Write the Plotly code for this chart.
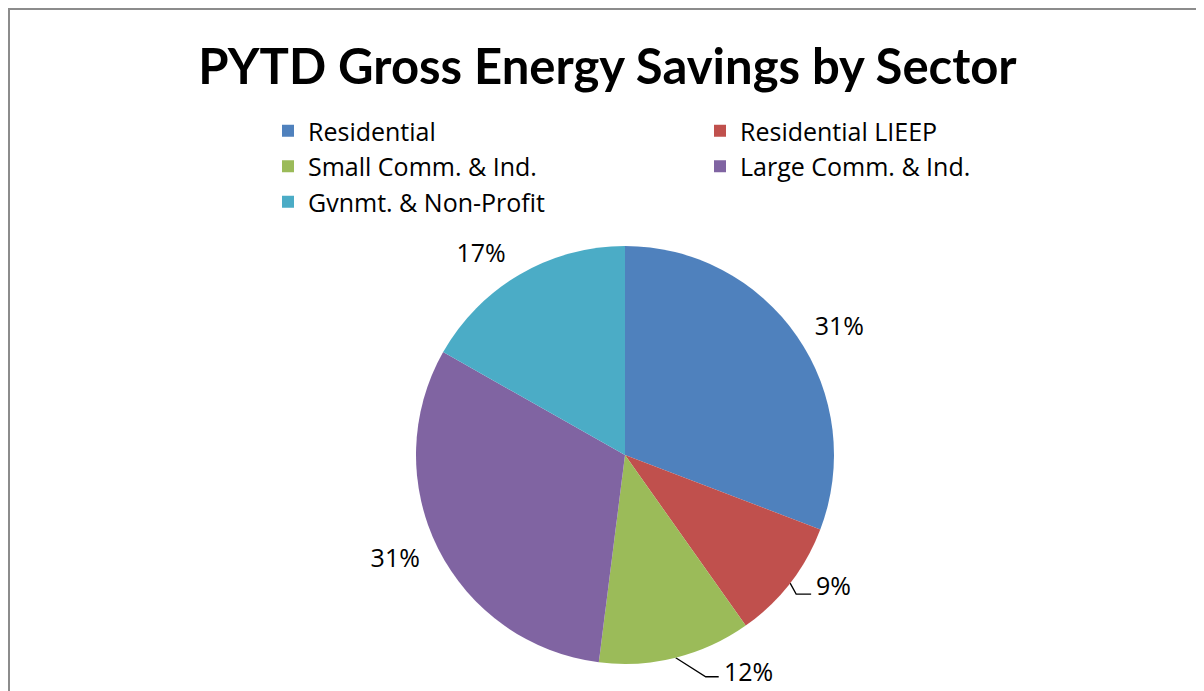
import math
import plotly.graph_objects as go

# datos del gráfico
sectores = ['Residential', 'Residential LIEEP', 'Small Comm. & Ind.',
            'Large Comm. & Ind.', 'Gvnmt. & Non-Profit']
ahorro_pct = [30.8, 9.4, 11.8, 31.2, 16.8]
colores = ['#4F81BD', '#C0504D', '#9BBB59', '#8064A2', '#4BACC6']

W, H = 1204, 691
OFF = 8  # margen del body de la página

# centro y radio del pastel (px en la figura)
cx, cy, r = 625 - OFF, 455 - OFF, 209
r_txt = 220

total = sum(ahorro_pct)
etiquetas = ['{}%'.format(round(v / total * 100)) for v in ahorro_pct]
# las etiquetas de sectores pequeños van con línea guía (como en Excel)
con_guia = {1: dict(codo=(6, 11), fin=(21, 11), dy=-9),
            2: dict(codo=(30, 19), fin=(43, 19), dy=-6)}


def dominio(rad):
    return dict(x=[(cx - rad) / W, (cx + rad) / W],
                y=[(H - cy - rad) / H, (H - cy + rad) / H])


fig = go.Figure()
fig.add_trace(go.Pie(
    labels=sectores,
    values=ahorro_pct,
    sort=False,
    direction='clockwise',
    rotation=0,
    marker=dict(colors=colores, line=dict(width=0)),
    textinfo='none',
    domain=dominio(r),
    hoverinfo='label+percent',
))
# pastel invisible solo para colocar las etiquetas más afuera
fig.add_trace(go.Pie(
    labels=sectores,
    values=ahorro_pct,
    sort=False,
    direction='clockwise',
    rotation=0,
    showlegend=False,
    marker=dict(colors=['rgba(0,0,0,0)'] * 5, line=dict(width=0)),
    text=['' if i in con_guia else t for i, t in enumerate(etiquetas)],
    textinfo='text',
    textposition='outside',
    textfont=dict(family='Open Sans', size=25, color='black'),
    domain=dominio(r_txt),
    hoverinfo='skip',
))

# líneas guía y etiquetas para los sectores pequeños
anot = []
acum = 0
for i, v in enumerate(ahorro_pct):
    ang = 2 * math.pi * (acum + v / 2) / total
    acum += v
    if i not in con_guia:
        continue
    px_ = cx + r * math.sin(ang)
    py_ = cy - r * math.cos(ang)
    g = con_guia[i]
    fig.add_trace(go.Scatter(
        x=[px_, px_ + g['codo'][0], px_ + g['fin'][0]],
        y=[py_, py_ + g['codo'][1], py_ + g['fin'][1]],
        mode='lines', line=dict(color='black', width=1.3),
        showlegend=False, hoverinfo='skip'))
    anot.append(dict(x=px_ + g['fin'][0] + 3, y=py_ + g['fin'][1] + g['dy'],
                     text=etiquetas[i], xref='x', yref='y',
                     xanchor='left', yanchor='middle', showarrow=False,
                     font=dict(family='Open Sans', size=25, color='black')))

fig.update_layout(
    width=W, height=H,
    margin=dict(l=0, r=0, t=0, b=0),
    paper_bgcolor='white',
    plot_bgcolor='rgba(0,0,0,0)',
    xaxis=dict(range=[0, W], visible=False, fixedrange=True),
    yaxis=dict(range=[H, 0], visible=False, fixedrange=True),
    title=dict(text='<b>PYTD Gross Energy Savings by Sector</b>',
               x=(607.5 - OFF) / W, xanchor='center', y=1 - (67 - OFF) / H, yanchor='middle',
               font=dict(family='Lato', size=49, color='black')),
    legend=dict(orientation='h', x=(268 - OFF) / W, xanchor='left',
                y=1 - (108 - OFF) / H, yanchor='top',
                entrywidth=387, entrywidthmode='pixels',
                font=dict(family='Open Sans', size=25, color='black'),
                bgcolor='rgba(0,0,0,0)'),
    annotations=anot,
    shapes=[dict(type='rect', xref='paper', yref='paper',
                 x0=1 / W, x1=1.02, y0=-0.02, y1=1 - 1 / H,
                 line=dict(color='#8c8c8c', width=2))],
)

fig.write_html('out.html')
